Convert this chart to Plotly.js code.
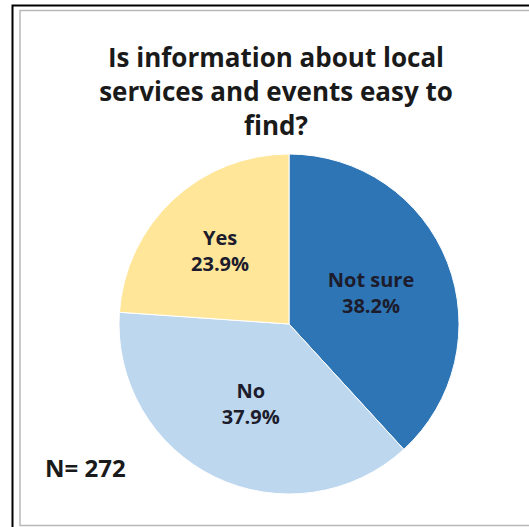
<!DOCTYPE html>
<html>
<head>
<meta charset="utf-8">
<script src="https://cdn.plot.ly/plotly-3.0.1.min.js"></script>
<style>html,body{margin:0;padding:0;background:#fff;}#chart{width:529px;height:527px;}</style>
</head>
<body>
<div id="chart"></div>
<script>
var labels = ["Not sure", "No", "Yes"];
var values = [38.2, 37.9, 23.9];
var colors = ["#2E75B6", "#BDD7EE", "#FFE699"];
var titleText = "Is information about local<br>services and events easy to<br>find?";
var noteText = "N= 272";

var W = 529, H = 527;
var FONT = "'Open Sans', sans-serif";

var trace = {
  type: "pie",
  labels: labels,
  values: values,
  sort: false,
  direction: "clockwise",
  rotation: 0,
  marker: {colors: colors, line: {color: "#ffffff", width: 1}},
  texttemplate: "<b>%{label}</b><br><b>%{value:.1f}%</b>",
  textposition: "inside",
  insidetextorientation: "horizontal",
  textfont: {family: FONT, size: 20, color: "#1c1c2c"},
  hoverinfo: "label+percent",
  domain: {x: [119 / W, 459 / W], y: [33 / H, 373 / H]},
  showlegend: false
};

var layout = {
  width: W, height: H,
  margin: {l: 0, r: 0, t: 0, b: 0},
  paper_bgcolor: "#ffffff",
  title: {
    text: "<b>" + titleText + "</b>",
    font: {family: FONT, size: 26, color: "#1a1a1a"},
    x: 276 / W, xanchor: "center",
    y: 1 - 67 / H, yanchor: "top",
    xref: "paper", yref: "container"
  },
  annotations: [{
    text: "<b>" + noteText + "</b>",
    xref: "paper", yref: "paper",
    x: 43 / W, y: 1 - 467 / H, xanchor: "left", yanchor: "middle",
    showarrow: false,
    font: {family: FONT, size: 24, color: "#1a1a1a"}
  }],
  shapes: [
    {type: "path", xref: "paper", yref: "paper",
     path: "M " + (12.5 / W) + " 0 L " + (12.5 / W) + " " + (1 - 5.5 / H) + " L 1 " + (1 - 5.5 / H),
     line: {color: "#000000", width: 2}},
    {type: "rect", xref: "paper", yref: "paper",
     x0: 20 / W, x1: 1.05, y0: 1 - 525.5 / H, y1: 1 - 10.5 / H,
     line: {color: "#b8b8b8", width: 1.5}}
  ]
};

Plotly.newPlot("chart", [trace], layout, {displayModeBar: false, staticPlot: true});
</script>
</body>
</html>
